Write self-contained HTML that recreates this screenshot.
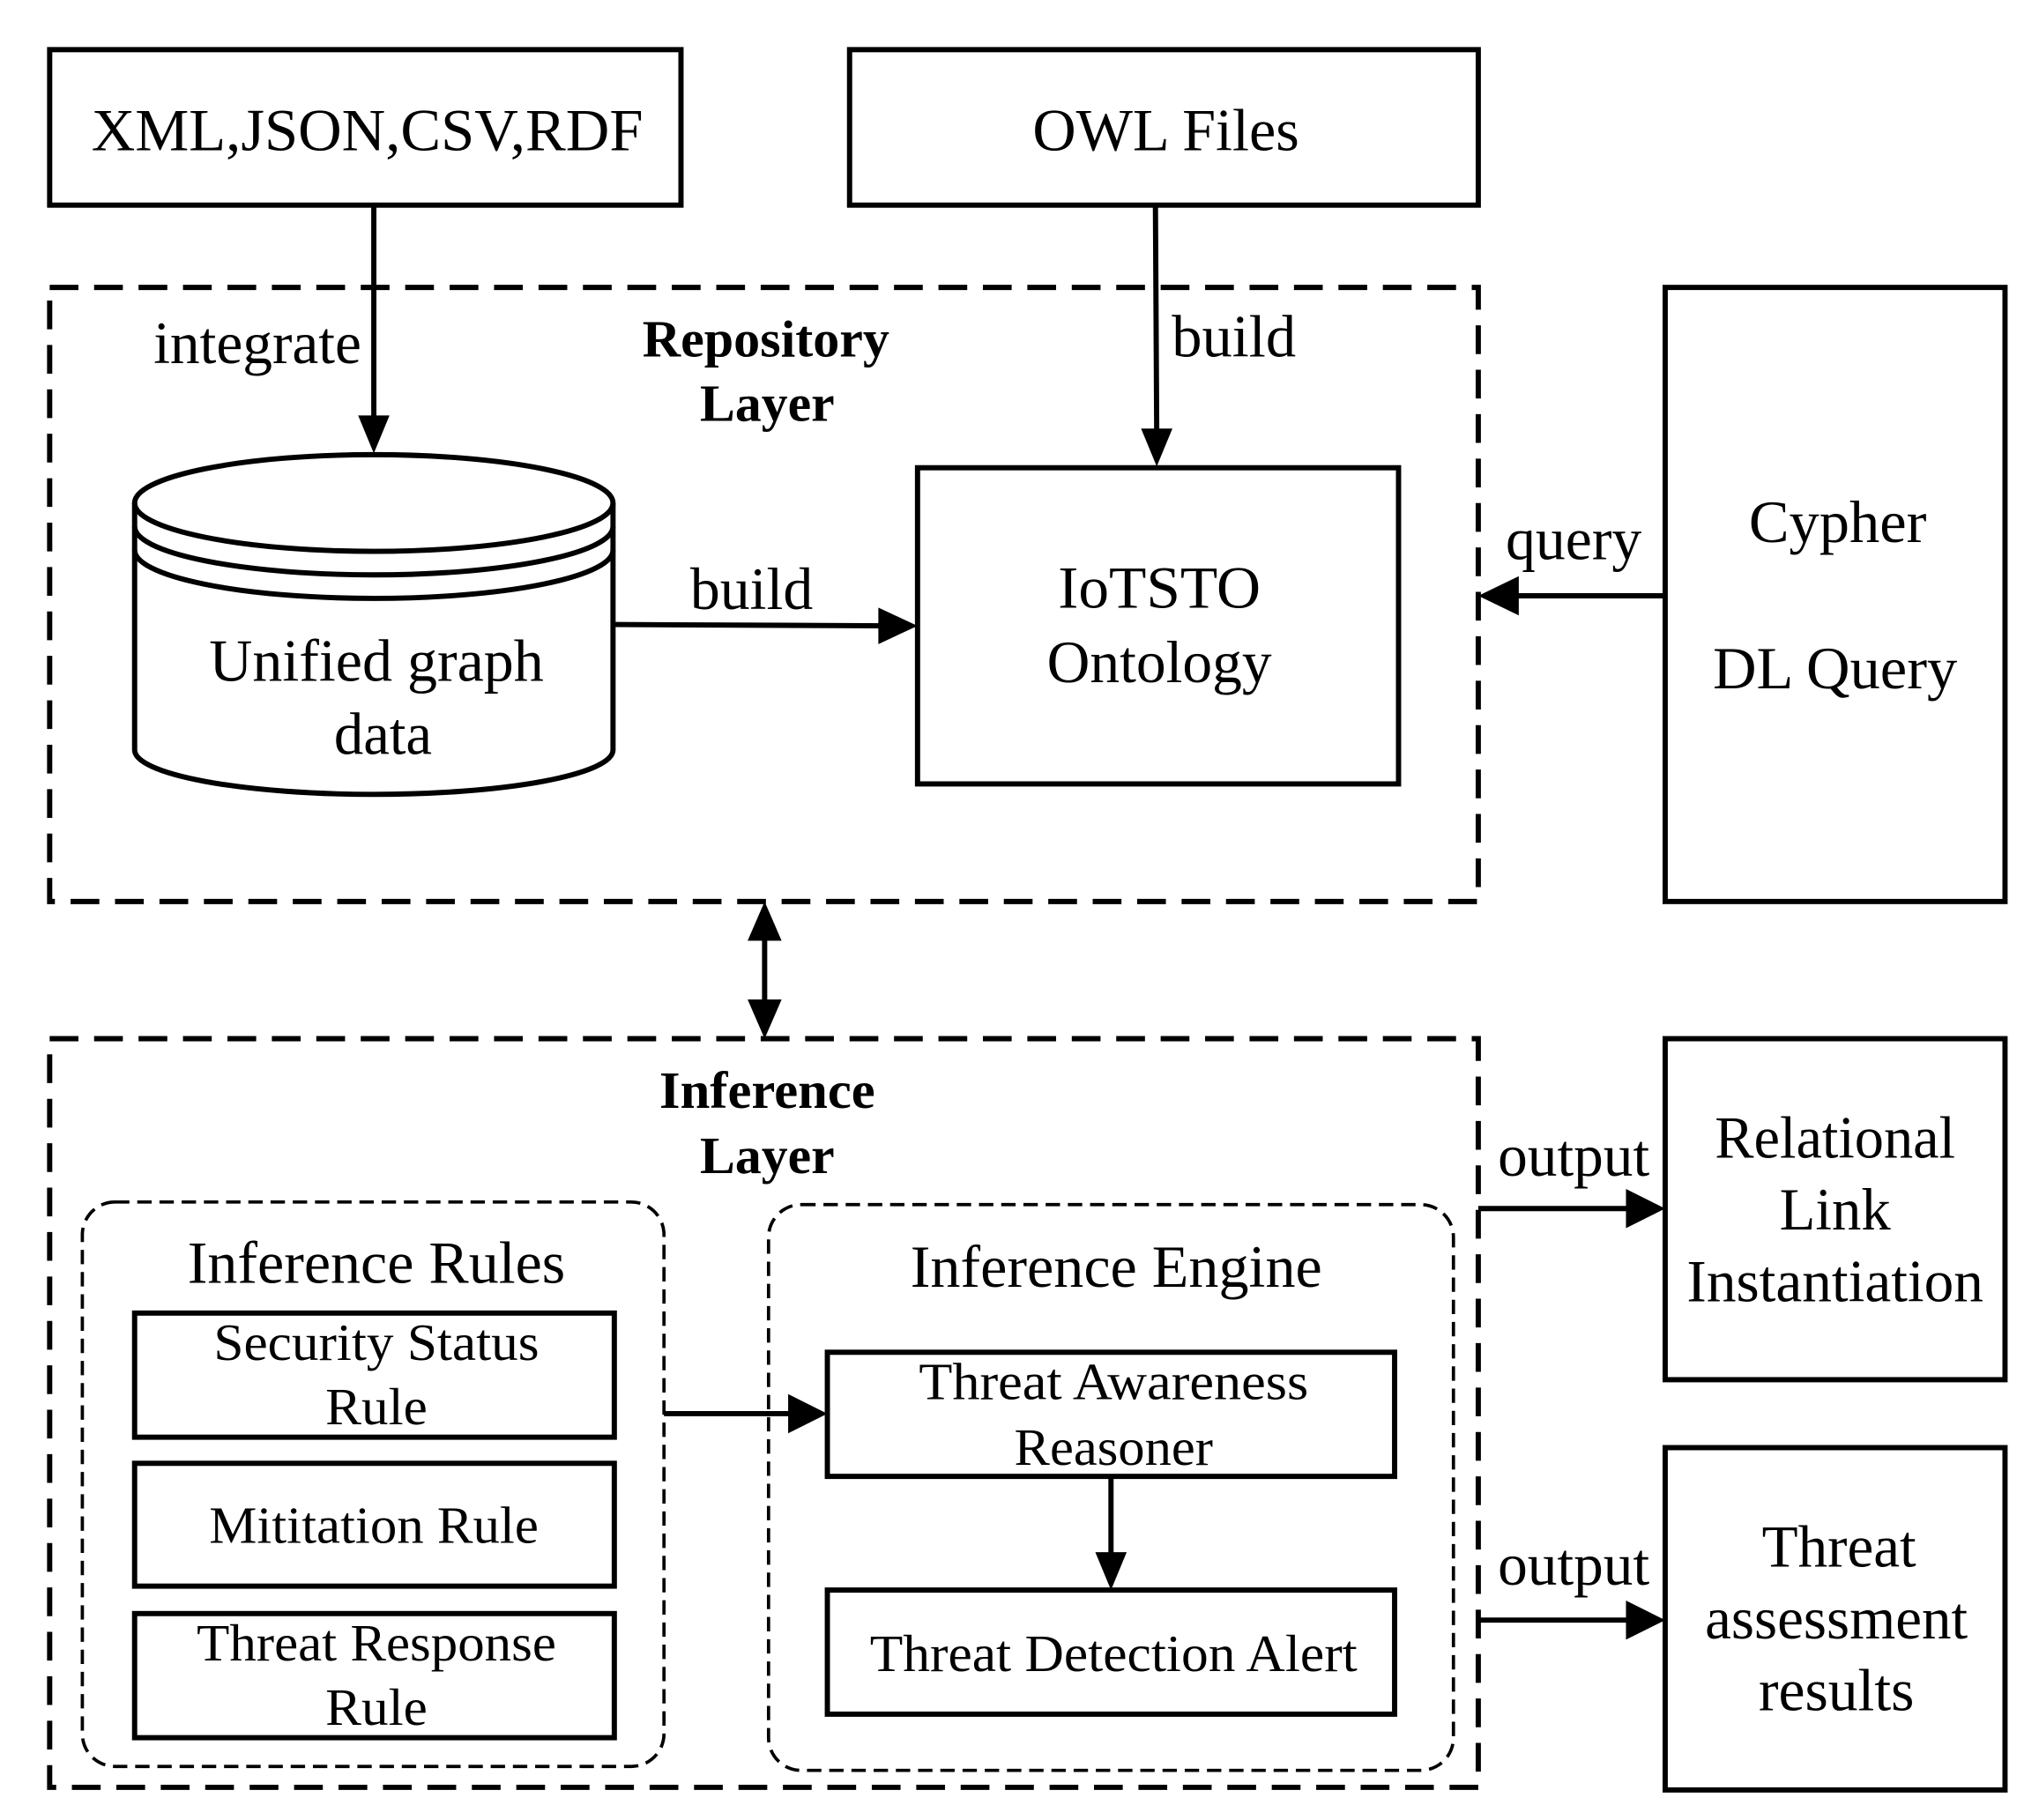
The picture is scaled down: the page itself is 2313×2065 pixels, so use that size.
<!DOCTYPE html>
<html><head><meta charset="utf-8"><style>
html,body{margin:0;padding:0;background:#fff;}
svg{display:block;}
text{font-family:"Liberation Serif",serif;fill:#000;}
</style></head><body>
<svg width="2313" height="2065" viewBox="0 0 1560 1393" preserveAspectRatio="none" xmlns="http://www.w3.org/2000/svg">
<defs>
<marker id="a" markerWidth="10" markerHeight="10" refX="9" refY="5" orient="auto" markerUnits="userSpaceOnUse" viewBox="0 0 10 10">
</marker>
</defs>
<g fill="none" stroke="#000" stroke-width="4">
<rect x="38" y="38" width="483" height="119"/>
<rect x="650" y="38" width="481" height="119"/>
<rect x="38" y="220" width="1093" height="470" stroke-dasharray="22 12"/>
<rect x="702" y="358" width="368" height="242"/>
<rect x="1274" y="220" width="260" height="470"/>
<rect x="38" y="795" width="1093" height="573" stroke-dasharray="22 12"/>
<rect x="63" y="920" width="445" height="432" rx="25" stroke-width="2.5" stroke-dasharray="11 6"/>
<rect x="588" y="922" width="524" height="433" rx="25" stroke-width="2.5" stroke-dasharray="11 6"/>
<rect x="103" y="1005" width="367" height="95"/>
<rect x="103" y="1120" width="367" height="94"/>
<rect x="103" y="1235" width="367" height="95"/>
<rect x="633" y="1035" width="434" height="95"/>
<rect x="633" y="1217" width="434" height="95"/>
<rect x="1274" y="795" width="260" height="261"/>
<rect x="1274" y="1108" width="260" height="262"/>
<!-- cylinder -->
<ellipse cx="286" cy="385" rx="183" ry="37" fill="#fff"/>
<path d="M103 385 V574 A183 34 0 0 0 469 574 V385"/>
<path d="M103 403 A183 37 0 0 0 469 403"/>
<path d="M103 421 A183 37 0 0 0 469 421"/>
<!-- lines -->
<line x1="286" y1="157" x2="286" y2="325"/>
<line x1="884" y1="157" x2="885" y2="335"/>
<line x1="470" y1="478" x2="680" y2="479"/>
<line x1="1274" y1="456" x2="1152" y2="456"/>
<line x1="585" y1="712" x2="585" y2="773"/>
<line x1="508" y1="1082" x2="612" y2="1082"/>
<line x1="850" y1="1130" x2="850" y2="1196"/>
<line x1="1131" y1="925" x2="1252" y2="925"/>
<line x1="1131" y1="1240" x2="1252" y2="1240"/>
</g>
<g fill="#000">
<polygon points="286,347 274,318 298,318"/>
<polygon points="885,357 873,328 897,328"/>
<polygon points="702,479 672,465 672,493"/>
<polygon points="1131,456 1162,441 1162,471"/>
<polygon points="585,690 572,720 598,720"/>
<polygon points="585,795 572,765 598,765"/>
<polygon points="633,1082 603,1067 603,1097"/>
<polygon points="850,1217 838,1188 862,1188"/>
<polygon points="1274,925 1244,910 1244,940"/>
<polygon points="1274,1240 1244,1225 1244,1255"/>
</g>
<g font-size="46" text-anchor="middle">
<text x="281" y="115" textLength="422" lengthAdjust="spacingAndGlyphs">XML,JSON,CSV,RDF</text>
<text x="892" y="115" textLength="204" lengthAdjust="spacingAndGlyphs">OWL Files</text>
<text x="197" y="278" textLength="159" lengthAdjust="spacingAndGlyphs">integrate</text>
<text x="944" y="273" textLength="95" lengthAdjust="spacingAndGlyphs">build</text>
<text x="575" y="466" textLength="94" lengthAdjust="spacingAndGlyphs">build</text>
<text x="288" y="521" textLength="256" lengthAdjust="spacingAndGlyphs">Unified graph</text>
<text x="293" y="577" textLength="75" lengthAdjust="spacingAndGlyphs">data</text>
<text x="887" y="465" textLength="155" lengthAdjust="spacingAndGlyphs">IoTSTO</text>
<text x="887" y="522" textLength="172" lengthAdjust="spacingAndGlyphs">Ontology</text>
<text x="1204" y="428" textLength="104" lengthAdjust="spacingAndGlyphs">query</text>
<text x="1406" y="415" textLength="136" lengthAdjust="spacingAndGlyphs">Cypher</text>
<text x="1404" y="527" textLength="187" lengthAdjust="spacingAndGlyphs">DL Query</text>
<text x="288" y="982" textLength="289" lengthAdjust="spacingAndGlyphs">Inference Rules</text>
<text x="854" y="985" textLength="315" lengthAdjust="spacingAndGlyphs">Inference Engine</text>
<text x="1404" y="886" textLength="184" lengthAdjust="spacingAndGlyphs">Relational</text>
<text x="1404" y="941" textLength="85" lengthAdjust="spacingAndGlyphs">Link</text>
<text x="1404" y="996" textLength="227" lengthAdjust="spacingAndGlyphs">Instantiation</text>
<text x="1204" y="900" textLength="116" lengthAdjust="spacingAndGlyphs">output</text>
<text x="1204" y="1213" textLength="116" lengthAdjust="spacingAndGlyphs">output</text>
<text x="1407" y="1199" textLength="118" lengthAdjust="spacingAndGlyphs">Threat</text>
<text x="1405" y="1254" textLength="201" lengthAdjust="spacingAndGlyphs">assessment</text>
<text x="1405" y="1309" textLength="119" lengthAdjust="spacingAndGlyphs">results</text>
</g>
<g font-size="40" text-anchor="middle">
<text x="288" y="1041" textLength="249" lengthAdjust="spacingAndGlyphs">Security  Status</text>
<text x="288" y="1090" textLength="78" lengthAdjust="spacingAndGlyphs">Rule</text>
<text x="286" y="1181" textLength="252" lengthAdjust="spacingAndGlyphs">Mititation Rule</text>
<text x="288" y="1271" textLength="275" lengthAdjust="spacingAndGlyphs">Threat Response</text>
<text x="288" y="1320" textLength="78" lengthAdjust="spacingAndGlyphs">Rule</text>
<text x="852" y="1071" textLength="298" lengthAdjust="spacingAndGlyphs">Threat Awareness</text>
<text x="852" y="1121" textLength="152" lengthAdjust="spacingAndGlyphs">Reasoner</text>
<text x="852" y="1279" textLength="373" lengthAdjust="spacingAndGlyphs">Threat Detection Alert</text>
</g>
<g font-size="40" font-weight="bold" text-anchor="middle">
<text x="586" y="273" textLength="189" lengthAdjust="spacingAndGlyphs">Repository</text>
<text x="587" y="322" textLength="103" lengthAdjust="spacingAndGlyphs">Layer</text>
<text x="587" y="848" textLength="165" lengthAdjust="spacingAndGlyphs">Inference</text>
<text x="587" y="898" textLength="103" lengthAdjust="spacingAndGlyphs">Layer</text>
</g>
</svg>
</body></html>
